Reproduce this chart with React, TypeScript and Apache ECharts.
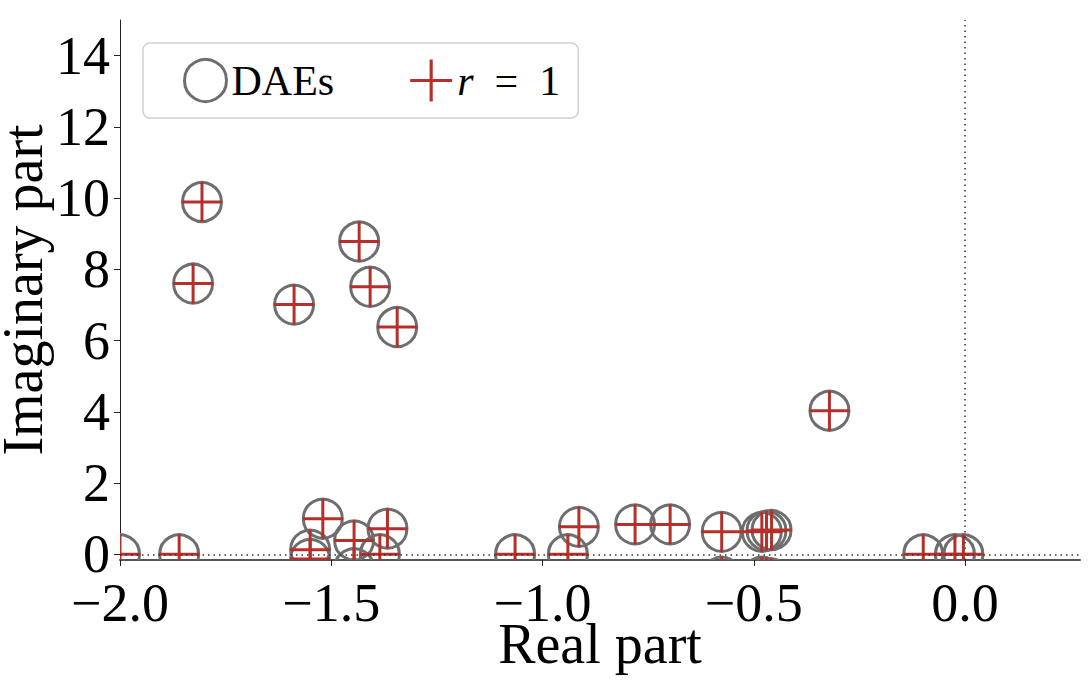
import React, { useEffect, useRef } from "react";
import * as echarts from "echarts";

// Eigenvalues (real, imaginary)
const realParts = [
  -1.806, -1.827, -1.588, -1.434, -1.408, -1.344, -0.321,
  -2.0, -1.86, -1.52, -1.55, -1.55, -1.446, -1.446, -1.367, -1.385,
  -1.065, -0.94, -0.914, -0.781, -0.698, -0.576, -0.576,
  -0.481, -0.481, -0.47, -0.47, -0.458, -0.458,
  -0.099, -0.024, -0.004,
];
const imagParts = [
  9.89, 7.6, 7.01, 8.78, 7.51, 6.38, 4.03,
  0, 0, 1.0, 0.13, -0.13, 0.39, -0.39, 0.72, 0,
  0, 0, 0.77, 0.84, 0.84, 0.63, -0.63,
  0.63, -0.63, 0.66, -0.66, 0.68, -0.68,
  0, 0, 0,
];
// r = 1 approximation coincides with the DAE eigenvalues in the picture
const r1Real = realParts.slice();
const r1Imag = imagParts.slice();

const yTicks = [0, 2, 4, 6, 8, 10, 12, 14];
const xTicks = [-2.0, -1.5, -1.0, -0.5, 0.0];

const GRAY = "#6e6e6e";
const RED = "#b5302a";
const FONT = "'Liberation Serif', 'DejaVu Serif', serif";

export default function App() {
  const ref = useRef<HTMLDivElement>(null);
  useEffect(() => {
    if (!ref.current) return;
    const chart = echarts.init(ref.current, undefined, { renderer: "svg" });
    const daeData = realParts.map((x, i) => [x, imagParts[i]]);
    const r1Data = r1Real.map((x, i) => [x, r1Imag[i]]);
    const fmt = (v: number) => (v < 0 ? "\u2212" : "") + Math.abs(v).toFixed(1);
    chart.setOption({
      animation: false,
      backgroundColor: "#ffffff",
      textStyle: { fontFamily: FONT },
      grid: { left: 120, right: 10, top: 20, bottom: 140, containLabel: false, outerBoundsMode: "none" },
      legend: {
        left: 143,
        top: 43,
        orient: "horizontal",
        padding: [15, 18, 15, 40],
        itemWidth: 42,
        itemHeight: 42,
        itemGap: 76,
        backgroundColor: "#ffffff",
        borderColor: "#d0d0d0",
        borderWidth: 1.5,
        borderRadius: 7,
        textStyle: {
          fontFamily: FONT,
          fontSize: 42,
          color: "#000",
          rich: { i: { fontFamily: FONT, fontSize: 42, fontStyle: "italic", color: "#000" } },
        },
        formatter: (name: string) => (name === "r = 1" ? "{i|r}\u2002=\u20021" : name),
        data: [
          {
            name: "DAEs",
            icon: "circle",
            itemStyle: { color: "rgba(0,0,0,0)", borderColor: GRAY, borderWidth: 3 },
          },
          {
            name: "r = 1",
            icon: "path://M18.5,0H21.5V40H18.5ZM0,18.5H40V21.5H0Z",
            itemStyle: { color: RED, borderWidth: 0 },
          },
        ],
      },
      xAxis: {
        type: "value",
        min: -2,
        max: 0.272,
        name: "Real part",
        nameLocation: "middle",
        nameGap: 56,
        nameMoveOverlap: false,
        nameTextStyle: { fontFamily: FONT, fontSize: 56, color: "#000" },
        axisLine: { show: true, onZero: false, lineStyle: { color: "#555", width: 2 } },
        axisTick: { show: true, customValues: xTicks, length: 6, lineStyle: { color: "#222", width: 1 } },
        axisLabel: {
          customValues: xTicks,
          formatter: fmt,
          fontFamily: FONT,
          fontSize: 54,
          lineHeight: 44,
          color: "#000",
          margin: 21,
        },
        splitLine: { show: false },
      },
      yAxis: {
        type: "value",
        min: -0.16,
        max: 15,
        name: "Imaginary part",
        nameLocation: "middle",
        nameGap: 79,
        nameMoveOverlap: false,
        nameTextStyle: { fontFamily: FONT, fontSize: 56, lineHeight: 36, color: "#000" },
        axisLine: { show: true, onZero: false, lineStyle: { color: "#222", width: 1 } },
        axisTick: { show: true, customValues: yTicks, length: 6, lineStyle: { color: "#222", width: 1 } },
        axisLabel: {
          customValues: yTicks,
          formatter: (v: number) => String(v),
          fontFamily: FONT,
          fontSize: 54,
          lineHeight: 40,
          color: "#000",
          margin: 10,
        },
        splitLine: { show: false },
      },
      series: [
        {
          name: "DAEs",
          type: "custom",
          clip: true,
          data: daeData,
          encode: { x: 0, y: 1 },
          z: 2,
          renderItem: (params: any, api: any) => {
            const p = api.coord([api.value(0), api.value(1)]);
            return {
              type: "circle",
              shape: { cx: p[0], cy: p[1], r: 19.5 },
              style: { fill: "none", stroke: GRAY, lineWidth: 3 },
            };
          },
        },
        {
          name: "r = 1",
          type: "custom",
          clip: true,
          data: r1Data,
          encode: { x: 0, y: 1 },
          z: 3,
          renderItem: (params: any, api: any) => {
            const p = api.coord([api.value(0), api.value(1)]);
            return {
              type: "group",
              children: [
                {
                  type: "line",
                  shape: { x1: p[0] - 20, y1: p[1], x2: p[0] + 20, y2: p[1] },
                  style: { stroke: RED, lineWidth: 3 },
                },
                {
                  type: "line",
                  shape: { x1: p[0], y1: p[1] - 20, x2: p[0], y2: p[1] + 20 },
                  style: { stroke: RED, lineWidth: 3 },
                },
              ],
            };
          },
        },
        {
          name: "refLines",
          type: "line",
          data: [],
          z: 5,
          markLine: {
            silent: true,
            symbol: "none",
            label: { show: false },
            lineStyle: { color: "#333", width: 1.5, type: [1.5, 4] },
            data: [{ yAxis: 0 }, { xAxis: 0 }],
          },
        },
      ],
    });
    return () => chart.dispose();
  }, []);
  return (
    <div
      ref={ref}
      style={{ position: "fixed", left: 0, top: 0, width: 1090, height: 700, background: "#fff" }}
    />
  );
}
